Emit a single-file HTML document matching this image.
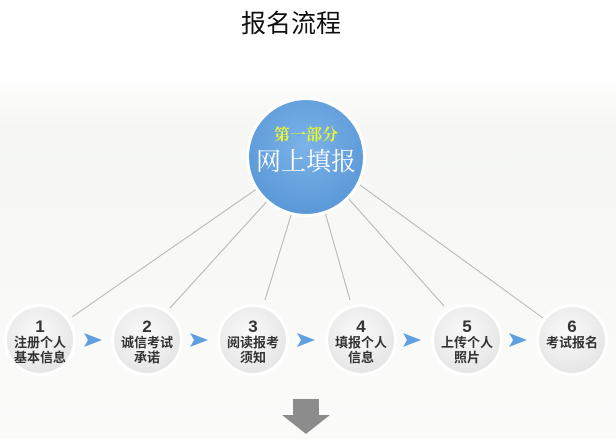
<!DOCTYPE html>
<html><head><meta charset="utf-8"><style>
body{margin:0;width:616px;height:439px;overflow:hidden;background:#fff;font-family:"Liberation Sans","Noto Sans CJK SC",sans-serif;}
</style></head><body>
<svg width="616" height="439" xmlns="http://www.w3.org/2000/svg">
<defs>
<linearGradient id="bg" x1="0" y1="0" x2="0" y2="1">
<stop offset="0" stop-color="#ffffff"/><stop offset="0.15" stop-color="#f6f7f4"/><stop offset="1" stop-color="#fbfbfa"/></linearGradient>
<radialGradient id="sc" cx="0.45" cy="0.4" r="0.6"><stop offset="0" stop-color="#fafafa"/><stop offset="1" stop-color="#e6e6e6"/></radialGradient>
<radialGradient id="bc" cx="0.5" cy="0.4" r="0.6"><stop offset="0" stop-color="#7cb3e8"/><stop offset="1" stop-color="#5a98d8"/></radialGradient>
</defs>
<rect x="0" y="70" width="616" height="369" fill="url(#bg)"/>
<text x="291" y="32" font-size="25" text-anchor="middle" fill="#111" font-family="Noto Sans CJK SC, sans-serif">报名流程</text>
<g stroke="#b5b5b5" stroke-width="1">
<line x1="258" y1="188" x2="72" y2="317"/>
<line x1="270" y1="198" x2="170" y2="308"/>
<line x1="292" y1="212" x2="265" y2="300"/>
<line x1="325" y1="212" x2="350" y2="300"/>
<line x1="348" y1="198" x2="444" y2="306"/>
<line x1="360" y1="185" x2="543" y2="318"/>
</g>
<circle cx="306" cy="157" r="60" fill="#ffffff" opacity="0.9"/>
<circle cx="306" cy="157" r="57" fill="url(#bc)"/>
<text x="306" y="140" font-size="16" font-weight="bold" text-anchor="middle" fill="#e8f530" font-family="Noto Serif CJK SC, serif">第一部分</text>
<text x="306" y="170" font-size="25" text-anchor="middle" fill="#fff" font-family="Noto Serif CJK SC, serif">网上填报</text>
<g font-family="Noto Sans CJK SC, sans-serif" font-weight="bold" fill="#333" text-anchor="middle">
<g transform="translate(40,340)"><circle r="36" fill="#fff"/><circle r="33" fill="url(#sc)"/><text y="-8" font-size="17" font-family="Liberation Sans">1</text><text y="7" font-size="13">注册个人</text><text y="22" font-size="13">基本信息</text></g>
<g transform="translate(147,340)"><circle r="36" fill="#fff"/><circle r="33" fill="url(#sc)"/><text y="-8" font-size="17" font-family="Liberation Sans">2</text><text y="7" font-size="13">诚信考试</text><text y="22" font-size="13">承诺</text></g>
<g transform="translate(253,340)"><circle r="36" fill="#fff"/><circle r="33" fill="url(#sc)"/><text y="-8" font-size="17" font-family="Liberation Sans">3</text><text y="7" font-size="13">阅读报考</text><text y="22" font-size="13">须知</text></g>
<g transform="translate(361,340)"><circle r="36" fill="#fff"/><circle r="33" fill="url(#sc)"/><text y="-8" font-size="17" font-family="Liberation Sans">4</text><text y="7" font-size="13">填报个人</text><text y="22" font-size="13">信息</text></g>
<g transform="translate(467,340)"><circle r="36" fill="#fff"/><circle r="33" fill="url(#sc)"/><text y="-8" font-size="17" font-family="Liberation Sans">5</text><text y="7" font-size="13">上传个人</text><text y="22" font-size="13">照片</text></g>
<g transform="translate(572,340)"><circle r="36" fill="#fff"/><circle r="33" fill="url(#sc)"/><text y="-8" font-size="17" font-family="Liberation Sans">6</text><text y="7" font-size="13">考试报名</text></g>
</g>
<g fill="#5fa0e0">
<polygon points="84,333 102,340 84,347 88,340"/>
<polygon points="190,333 208,340 190,347 194,340"/>
<polygon points="297,333 315,340 297,347 301,340"/>
<polygon points="403,333 421,340 403,347 407,340"/>
<polygon points="509,333 527,340 509,347 513,340"/>
</g>
<polygon points="293,399 319,399 319,415 330,415 306,434 282,415 293,415" fill="#8c8c8c"/>
</svg>
</body></html>
